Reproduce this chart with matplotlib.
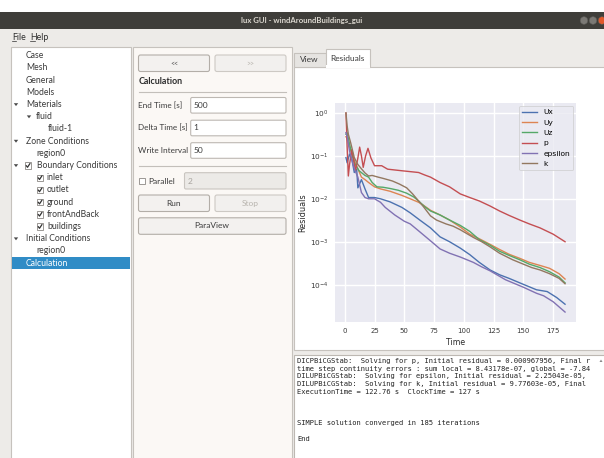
import matplotlib
matplotlib.use("Agg")
import matplotlib.pyplot as plt
from matplotlib.patches import Rectangle, FancyBboxPatch, Circle, Polygon

# residual history (time step, initial residual)
ux_t = [1, 2, 4, 6, 8, 10, 11, 14, 17, 20, 25, 30, 38, 48, 55, 63, 72, 80, 88, 97,
        105, 113, 122, 130, 138, 147, 155, 161, 170, 178, 185]
ux = [9.1e-2, 6.9e-2, 0.11, 8.3e-2, 4.1e-2, 4.9e-2, 1.8e-2, 2.8e-2, 1.7e-2, 1.07e-2,
      1.07e-2, 1.0e-2, 8.5e-3, 6.3e-3, 4.7e-3, 3.2e-3, 2.1e-3, 1.3e-3, 1.0e-3, 7.1e-4,
      5.0e-4, 3.3e-4, 2.2e-4, 1.7e-4, 1.4e-4, 1.1e-4, 8.9e-5, 7.6e-5, 6.9e-5, 5.0e-5, 3.5e-5]

uy_t = [1, 2, 4, 6, 8, 11, 14, 17, 20, 25, 30, 38, 48, 55, 62, 66, 72, 80, 88, 97,
        105, 113, 122, 130, 138, 147, 155, 164, 172, 180, 185]
uy = [0.28, 0.25, 0.16, 0.11, 7.9e-2, 5.0e-2, 3.2e-2, 2.8e-2, 2.4e-2, 1.9e-2,
      1.7e-2, 1.5e-2, 1.2e-2, 1.0e-2, 8.3e-3, 7.1e-3, 5.4e-3, 4.2e-3, 3.2e-3, 2.2e-3,
      1.5e-3, 1.17e-3, 8.7e-4, 6.6e-4, 5.1e-4, 4.1e-4, 3.3e-4, 2.8e-4, 2.4e-4, 1.8e-4, 1.35e-4]

uz_t = [1, 2, 4, 6, 8, 12, 17, 20, 23, 27, 32, 38, 45, 52, 58, 62, 67, 72, 80, 88,
        97, 105, 113, 122, 130, 138, 147, 155, 164, 172, 180, 185]
uz = [0.32, 0.35, 0.19, 0.11, 6.9e-2, 4.5e-2, 3.5e-2, 3.2e-2, 2.4e-2, 1.9e-2,
      1.86e-2, 1.74e-2, 1.58e-2, 1.35e-2, 1.1e-2, 8.9e-3, 6.6e-3, 5.2e-3, 4.2e-3, 3.2e-3,
      2.4e-3, 1.74e-3, 1.12e-3, 8.3e-4, 6.0e-4, 4.8e-4, 3.8e-4, 3.0e-4, 2.5e-4, 2.0e-4,
      1.5e-4, 1.1e-4]

p_t = [1, 2, 3, 4, 6, 7.5, 9, 11, 12.5, 14, 15.5, 17.5, 19.5, 22, 25, 31, 36, 48, 62, 67,
       72, 80, 88, 97, 105, 113, 122, 130, 138, 147, 155, 164, 175, 185]
p = [1.0, 0.16, 3.4e-2, 6.3e-2, 0.14, 7.9e-2, 4.5e-2, 8.9e-2, 0.16, 0.10,
     5.4e-2, 0.10, 0.15, 8.9e-2, 5.9e-2, 5.9e-2, 4.9e-2, 4.5e-2, 4.1e-2, 3.6e-2,
     3.2e-2, 2.4e-2, 1.9e-2, 1.3e-2, 1.07e-2, 8.9e-3, 6.8e-3, 5.2e-3, 4.1e-3, 3.2e-3,
     2.6e-3, 2.1e-3, 1.5e-3, 1.0e-3]

eps_t = [1, 2, 4, 6, 8, 11, 14, 17, 20, 25, 30, 34, 42, 50, 55, 63, 72, 80, 88, 97,
         108, 115, 122, 135, 150, 161, 167, 175, 185]
eps = [0.35, 0.28, 0.13, 7.9e-2, 5.0e-2, 3.2e-2, 1.4e-2, 1.07e-2, 1.0e-2, 1.0e-2,
       8.3e-3, 6.3e-3, 4.2e-3, 3.0e-3, 2.6e-3, 1.7e-3, 1.05e-3, 6.8e-4, 5.4e-4, 4.4e-4,
       3.3e-4, 2.6e-4, 2.1e-4, 1.3e-4, 8.7e-5, 6.3e-5, 5.5e-5, 4.0e-5, 2.3e-5]

k_t = [1, 2, 3, 5, 8, 11, 14, 17, 20, 23, 28, 32, 40, 46, 52, 57, 62, 66, 72, 77,
       85, 91, 97, 108, 115, 122, 130, 141, 150, 157, 164, 172, 180, 185]
k = [1.0, 0.50, 0.32, 0.20, 9.1e-2, 6.3e-2, 5.0e-2, 4.0e-2, 3.4e-2, 3.5e-2,
     3.2e-2, 3.0e-2, 2.6e-2, 2.2e-2, 1.8e-2, 1.3e-2, 8.9e-3, 6.6e-3, 4.0e-3, 3.2e-3,
     2.6e-3, 2.3e-3, 1.9e-3, 1.26e-3, 1.0e-3, 7.6e-4, 5.4e-4, 3.8e-4, 3.0e-4, 2.5e-4,
     2.2e-4, 1.8e-4, 1.4e-4, 1.05e-4]

names = ["Ux", "Uy", "Uz", "p", "epsilon", "k"]
x_ticks = [0, 25, 50, 75, 100, 125, 150, 175]

tree_labels = ["Case", "Mesh", "General", "Models", "Materials", "fluid", "fluid-1",
               "Zone Conditions", "region0", "Boundary Conditions", "inlet", "outlet",
               "ground", "frontAndBack", "buildings", "Initial Conditions", "region0",
               "Calculation"]

# log lines as far as the console shows them
console_lines = [
    "DICPBiCGStab:  Solving for p, Initial residual = 0.000967956, Final r",
    "time step continuity errors : sum local = 8.43178e-07, global = -7.84",
    "DILUPBiCGStab:  Solving for epsilon, Initial residual = 2.25043e-05,",
    "DILUPBiCGStab:  Solving for k, Initial residual = 9.77603e-05, Final",
    "ExecutionTime = 122.76 s  ClockTime = 127 s",
    "", "", "",
    "SIMPLE solution converged in 185 iterations",
    "",
    "End",
]

GUI = "Lato"
palette = ["#4c72b0", "#dd8452", "#55a868", "#c44e52", "#8172b3", "#937860"]

fig = plt.figure(figsize=(6.04, 4.58), dpi=100)
fig.patch.set_facecolor("white")

# whole window drawn in pixel units, y going down
bg = fig.add_axes([0, 0, 1, 1])
bg.set_xlim(0, 604)
bg.set_ylim(458, 0)
bg.axis("off")


def box(x0, y0, x1, y1, fc, ec="none", lw=0.8, r=0, z=1):
    if r:
        patch = FancyBboxPatch((x0, y0), x1 - x0, y1 - y0,
                               boxstyle="round,pad=0,rounding_size=%g" % r,
                               fc=fc, ec=ec, lw=lw, zorder=z)
    else:
        patch = Rectangle((x0, y0), x1 - x0, y1 - y0, fc=fc, ec=ec, lw=lw, zorder=z)
    bg.add_patch(patch)
    return patch


def label(x, y, s, size=6.2, color="#3c3c3c", ha="left", weight="normal", family=GUI, z=5):
    return bg.text(x, y, s, fontsize=size, color=color, ha=ha, va="center",
                   fontweight=weight, family=family, zorder=z)


def arrow(x, y):
    bg.add_patch(Polygon([(x - 2.2, y - 1.3), (x + 2.2, y - 1.3), (x, y + 1.6)],
                         closed=True, fc="#4a4a4a", ec="none", zorder=6))


def checkbox(x, y, checked=True):
    box(x - 3.2, y - 3.2, x + 3.2, y + 3.2, "white", "#8c8884", lw=0.6, z=6)
    if checked:
        bg.plot([x - 1.8, x - 0.5, x + 2.0], [y + 0.1, y + 1.8, y - 2.0],
                color="#333333", lw=0.9, zorder=7, solid_capstyle="round")


# window frame
box(0, 0, 604, 12, "white", z=0)
box(0, 12, 604, 28.5, "#3f3e3a", z=1)
label(302, 20.5, "lux GUI - windAroundBuildings_gui", size=5.6, color="#dcd8d0",
      ha="center", weight="bold")
for cx, col in [(584, "#7b7975"), (593, "#7b7975"), (602, "#e2582b")]:
    bg.add_patch(Circle((cx, 20.5), 3.8, fc=col, ec="#5a5955", lw=0.4, zorder=3))
box(0, 28.5, 604, 458, "#edebe8", z=0.5)
label(12, 37, "File", size=6.3, color="#2e2e2e")
label(30, 37, "Help", size=6.3, color="#2e2e2e")
bg.plot([12, 15.5], [40.8, 40.8], color="#2e2e2e", lw=0.5, zorder=6)
bg.plot([30, 34.5], [40.8, 40.8], color="#2e2e2e", lw=0.5, zorder=6)

# tree panel
box(10.5, 47, 130.5, 460, "white", "#c6c2bd", lw=0.8, z=2)
row0, dy = 55.7, 12.2
text_x = [26, 26, 26, 26, 26, 36, 47.5, 26, 36, 37, 47, 47, 47, 47, 47, 26, 36, 26]
for i, (s, tx) in enumerate(zip(tree_labels, text_x)):
    y = row0 + i * dy
    col = "#3a3a3a"
    if s == "Calculation":
        box(12, y - 6.2, 129.5, y + 6.2, "#308cc6", z=3)
        col = "white"
    label(tx, y, s, size=6.2, color=col)
for i in [4, 7, 9, 15]:
    arrow(16, row0 + i * dy)
arrow(29, row0 + 5 * dy)
checkbox(28, row0 + 9 * dy)
for i in range(10, 15):
    checkbox(40, row0 + i * dy)

# settings panel
box(133, 47, 292, 460, "#fbf8f5", "#c6c2bd", lw=0.8, z=2)
btn_fc, btn_ec = "#f3f1ef", "#b3aea8"
box(138.5, 55, 209.5, 71.5, btn_fc, btn_ec, r=2, z=3)
label(174, 63.5, "<<", size=5, color="#555555", ha="center")
box(215, 55, 286, 71.5, "#f2f0ee", "#cdc9c4", r=2, z=3)
label(250.5, 63.5, ">>", size=5, color="#b8b4ae", ha="center")
label(138.5, 82, "Calculation", size=6.4, color="#2c2c2c", weight="bold")
bg.plot([138.5, 286], [91.7, 91.7], color="#c3bfba", lw=0.8, zorder=3)
for y, name, val in [(105.3, "End Time [s]", "500"), (128, "Delta Time [s]", "1"),
                     (150.5, "Write Interval", "50")]:
    label(138.5, y, name, size=5.9)
    box(190.7, y - 7.8, 286, y + 7.8, "white", "#bdb8b2", r=1.5, z=3)
    label(193.5, y, val, size=6.0)
bg.plot([138.5, 286], [165.7, 165.7], color="#c3bfba", lw=0.8, zorder=3)
checkbox(142, 181, checked=False)
label(148.5, 181, "Parallel", size=6.0)
box(184.5, 172.7, 286, 189, "#eceae7", "#c9c5c0", r=1.5, z=3)
label(187.5, 181, "2", size=6.0, color="#a9a5a0")
box(138.5, 195, 209.5, 211.5, btn_fc, btn_ec, r=2, z=3)
label(174, 203.3, "Run", size=6.0, ha="center")
box(215, 195, 286, 211.5, "#f2f0ee", "#cdc9c4", r=2, z=3)
label(250.5, 203.3, "Stop", size=6.0, color="#b8b4ae", ha="center")
box(138.5, 217.8, 286, 234.3, btn_fc, btn_ec, r=2, z=3)
label(212, 226, "ParaView", size=6.0, ha="center")

# tabs and residual page
box(294, 66.5, 606, 350, "white", "#c6c2bd", lw=0.8, z=2)
box(294, 53.3, 325.5, 66.5, "#e6e4e1", "#c6c2bd", lw=0.8, z=2)
label(309.7, 60, "View", size=6.0, ha="center")
box(325.5, 48.5, 370, 67.2, "white", "#c6c2bd", lw=0.8, z=3)
box(326, 65, 369.5, 68, "white", z=4)
label(347.8, 58.5, "Residuals", size=6.0, ha="center")

# console
box(294, 355, 606, 460, "white", "#bdb8b2", lw=0.8, z=2)
for i, line in enumerate(console_lines):
    if line:
        bg.text(297.3, 360.7 + i * 7.82, line, fontsize=5.15, family="DejaVu Sans Mono",
                color="#222222", va="center", ha="left", zorder=5)
bg.add_patch(Polygon([(599.5, 362), (602.5, 362), (601, 359.5)], closed=True,
                     fc="#8a8a8a", ec="none", zorder=6))

# residual plot
ax = fig.add_axes([335 / 604, 1 - 322 / 458, 241 / 604, 219 / 458])
ax.set_facecolor("#eaeaf2")
for s in ax.spines.values():
    s.set_visible(False)
series = [(ux_t, ux), (uy_t, uy), (uz_t, uz), (p_t, p), (eps_t, eps), (k_t, k)]
for (tt, vals), name, col in zip(series, names, palette):
    ax.plot(tt, vals, color=col, lw=1.0, label=name)
ax.set_yscale("log")
ax.set_xticks(x_ticks)
ax.grid(True, color="white", lw=1.0)
ax.minorticks_off()
ax.set_axisbelow(True)
ax.tick_params(which="both", length=0, colors="#3a3a3a", pad=4.5)
ax.tick_params(axis="x", labelsize=5.0)
ax.tick_params(axis="y", labelsize=5.3)
ax.set_xlabel("Time", fontsize=5.6, color="#2a2a2a", labelpad=2.5)
ax.set_ylabel("Residuals", fontsize=5.9, color="#2a2a2a", labelpad=2)
leg = ax.legend(loc="upper right", fontsize=5.4, frameon=True, fancybox=True,
                facecolor="#eaeaf2", edgecolor="#cccccc", handlelength=2.0,
                labelspacing=0.55, borderaxespad=0.4)
leg.get_frame().set_linewidth(0.6)

fig.savefig("out.png", dpi=100)
